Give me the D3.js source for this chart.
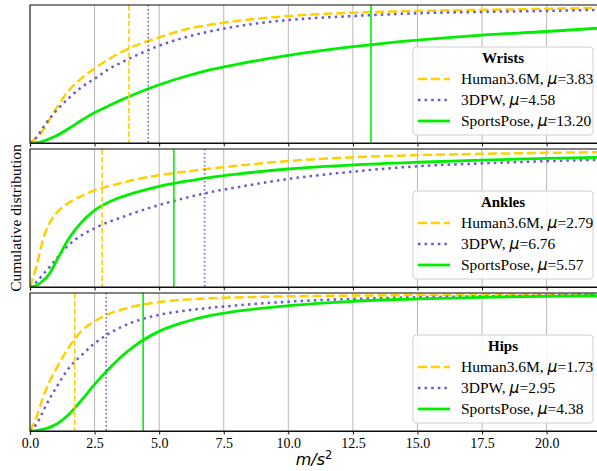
<!DOCTYPE html>
<html>
<head>
<meta charset="utf-8">
<script src="https://cdn.jsdelivr.net/npm/d3@7"></script>
<style>
  html, body { margin: 0; padding: 0; background: #fff; }
  svg { display: block; }
</style>
</head>
<body>
<svg id="chart" width="597" height="471"></svg>
<script>
// ---------- data ----------
const xGrid = [0, 0.25, 0.5, 0.75, 1, 1.5, 2, 2.5, 3, 3.5, 4, 5, 6, 7, 8, 10, 12.5, 15, 17.5, 20, 22];

const wristsHuman36M  = [0, 0.04, 0.09, 0.17, 0.245, 0.38, 0.47, 0.54, 0.602, 0.655, 0.70, 0.765, 0.822, 0.858, 0.884, 0.92, 0.944, 0.957, 0.965, 0.972, 0.98];
const wrists3DPW      = [0, 0.04, 0.11, 0.175, 0.23, 0.325, 0.405, 0.465, 0.53, 0.58, 0.625, 0.705, 0.765, 0.81, 0.845, 0.891, 0.92, 0.94, 0.95, 0.957, 0.965];
const wristsSports    = [0, 0.003, 0.012, 0.03, 0.05, 0.105, 0.165, 0.22, 0.265, 0.31, 0.35, 0.422, 0.482, 0.532, 0.57, 0.635, 0.698, 0.746, 0.782, 0.808, 0.832];

const anklesHuman36M  = [0, 0.15, 0.34, 0.46, 0.53, 0.61, 0.66, 0.70, 0.728, 0.752, 0.775, 0.81, 0.835, 0.858, 0.878, 0.913, 0.94, 0.956, 0.965, 0.972, 0.977];
const ankles3DPW      = [0, 0.035, 0.09, 0.143, 0.20, 0.305, 0.375, 0.425, 0.468, 0.502, 0.535, 0.594, 0.645, 0.688, 0.722, 0.783, 0.836, 0.875, 0.896, 0.912, 0.921];
const anklesSports    = [0, 0.01, 0.045, 0.095, 0.18, 0.35, 0.47, 0.555, 0.61, 0.65, 0.68, 0.73, 0.765, 0.795, 0.818, 0.855, 0.884, 0.904, 0.92, 0.932, 0.94];

const hipsHuman36M    = [0, 0.10, 0.24, 0.355, 0.445, 0.605, 0.725, 0.795, 0.845, 0.877, 0.902, 0.934, 0.952, 0.962, 0.968, 0.976, 0.981, 0.985, 0.988, 0.99, 0.992];
const hips3DPW        = [0, 0.05, 0.14, 0.232, 0.31, 0.455, 0.55, 0.635, 0.70, 0.75, 0.79, 0.842, 0.872, 0.893, 0.91, 0.937, 0.957, 0.969, 0.976, 0.982, 0.987];
const hipsSports      = [0, 0.003, 0.011, 0.026, 0.047, 0.12, 0.225, 0.338, 0.44, 0.533, 0.61, 0.722, 0.79, 0.837, 0.868, 0.908, 0.94, 0.957, 0.969, 0.976, 0.98];

const panelTitles = ["Wrists", "Ankles", "Hips"];
const seriesNames = ["Human3.6M", "3DPW", "SportsPose"];
const wristsMeans = [3.83, 4.58, 13.20];
const anklesMeans = [2.79, 6.76, 5.57];
const hipsMeans   = [1.73, 2.95, 4.38];
const meanLabels  = [["3.83", "4.58", "13.20"], ["2.79", "6.76", "5.57"], ["1.73", "2.95", "4.38"]];
const xTicks = [0, 2.5, 5, 7.5, 10, 12.5, 15, 17.5, 20];

// ---------- layout / style ----------
const panels = [
  { title: panelTitles[0], curves: [wristsHuman36M, wrists3DPW, wristsSports], means: wristsMeans, labels: meanLabels[0] },
  { title: panelTitles[1], curves: [anklesHuman36M, ankles3DPW, anklesSports], means: anklesMeans, labels: meanLabels[1] },
  { title: panelTitles[2], curves: [hipsHuman36M, hips3DPW, hipsSports], means: hipsMeans, labels: meanLabels[2] }
];
const colors = ["#FFD000", "#6A5ACD", "#00EE00"];
const curveDash = ["9,4", "2.5,4.1", null];
const vDash = ["5.5,2.4", "1.5,2.5", null];
const curveWidth = [2.5, 2.5, 2.8];

const left = 30, rightPx = 598.3;
const tops = [5, 149, 293];
const ph = 138;
const serif = "'Liberation Serif', 'Times New Roman', serif";

const svg = d3.select("#chart");
const x = d3.scaleLinear().domain([0, 22]).range([left, rightPx]);

const defs = svg.append("defs");

panels.forEach((p, i) => {
  const top = tops[i], bottom = top + ph;
  const y = d3.scaleLinear().domain([0, 1]).range([bottom, top]);
  const g = svg.append("g");

  defs.append("clipPath").attr("id", "clip" + i)
    .append("rect").attr("x", left).attr("y", top).attr("width", rightPx - left).attr("height", ph);

  // grid
  g.append("g").selectAll("line").data(xTicks).join("line")
    .attr("x1", d => x(d)).attr("x2", d => x(d))
    .attr("y1", top).attr("y2", bottom)
    .attr("stroke", "#b0b0b0").attr("stroke-width", 0.9);

  const plot = g.append("g").attr("clip-path", `url(#clip${i})`);

  // curves
  const line = d3.line().x((d, k) => x(xGrid[k])).y(d => y(d)).curve(d3.curveMonotoneX);
  p.curves.forEach((c, s) => {
    plot.append("path").datum(c)
      .attr("d", line)
      .attr("fill", "none")
      .attr("stroke", colors[s])
      .attr("stroke-width", curveWidth[s])
      .attr("stroke-dasharray", curveDash[s]);
  });

  // mean lines
  p.means.forEach((m, s) => {
    plot.append("line")
      .attr("x1", x(m)).attr("x2", x(m))
      .attr("y1", top).attr("y2", bottom)
      .attr("stroke", colors[s])
      .attr("stroke-width", 1.6)
      .attr("stroke-dasharray", vDash[s]);
  });

  // spines
  g.append("rect").attr("x", left).attr("y", top).attr("width", rightPx - left).attr("height", ph)
    .attr("fill", "none").attr("stroke", "#222").attr("stroke-width", 1.1);

  // x axis
  const axis = d3.axisBottom(x).tickValues(xTicks).tickSize(3.5).tickPadding(3.5)
    .tickFormat(i === 2 ? d3.format(".1f") : () => "");
  const ax = g.append("g").attr("transform", `translate(0,${bottom})`).call(axis);
  ax.select(".domain").attr("stroke", "#111").attr("stroke-width", 1.2);
  ax.selectAll(".tick line").attr("stroke", "#111").attr("stroke-width", 1);
  ax.selectAll(".tick text").attr("font-family", serif).attr("font-size", 14).attr("fill", "#000");

  // legend
  const bw = 180, bh = 88;
  const bx = 413, by = bottom - 8 - bh;
  const lg = g.append("g");
  lg.append("rect").attr("x", bx).attr("y", by).attr("width", bw).attr("height", bh)
    .attr("rx", 3).attr("fill", "#fff").attr("fill-opacity", 0.85)
    .attr("stroke", "#d0d0d0").attr("stroke-width", 1);
  lg.append("text").attr("x", bx + bw / 2).attr("y", by + 16)
    .attr("text-anchor", "middle").attr("font-family", serif).attr("font-weight", "bold")
    .attr("font-size", 15).text(p.title);
  seriesNames.forEach((nm, s) => {
    const cy = by + 32 + s * 21;
    lg.append("line").attr("x1", bx + 5).attr("x2", bx + 37).attr("y1", cy).attr("y2", cy)
      .attr("stroke", colors[s]).attr("stroke-width", curveWidth[s])
      .attr("stroke-dasharray", curveDash[s]);
    const t = lg.append("text").attr("x", bx + 48).attr("y", cy + 5)
      .attr("font-family", serif).attr("font-size", 15.5).attr("fill", "#000");
    t.append("tspan").text(nm + ", ");
    t.append("tspan").attr("font-family", "'DejaVu Sans', sans-serif").attr("font-style", "italic").text("μ");
    t.append("tspan").text("=" + p.labels[s]);
  });
});

// y label
svg.append("text").attr("transform", "translate(21,218) rotate(-90)")
  .attr("text-anchor", "middle").attr("font-family", serif).attr("font-size", 15.5)
  .text("Cumulative distribution");

// x label
const xl = svg.append("text").attr("x", 314).attr("y", 465).attr("text-anchor", "middle")
  .attr("font-family", "'DejaVu Sans', sans-serif").attr("font-style", "italic").attr("font-size", 16);
xl.append("tspan").text("m/s");
xl.append("tspan").attr("font-style", "normal").attr("font-size", 11.5).attr("dy", -6).text("2");
</script>
</body>
</html>
